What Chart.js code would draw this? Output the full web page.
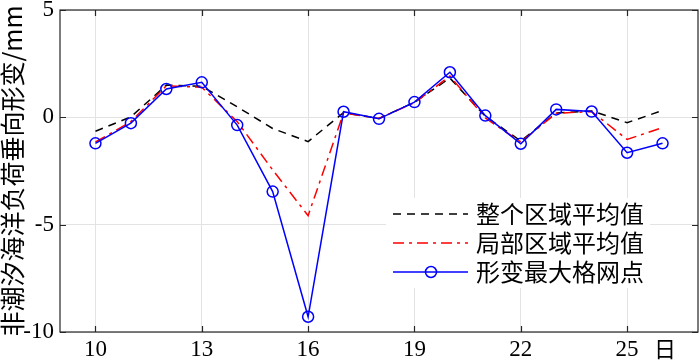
<!DOCTYPE html>
<html>
<head>
<meta charset="utf-8">
<script src="https://cdn.jsdelivr.net/npm/chart.js@4.4.0/dist/chart.umd.min.js"></script>
<style>
  body { margin: 0; background: #fff; }
  canvas { display: block; }
</style>
</head>
<body>
<canvas id="chart" width="700" height="364"></canvas>
<script>
const days = [10, 11, 12, 13, 14, 15, 16, 17, 18, 19, 20, 21, 22, 23, 24, 25, 26];
const xTicks = [10, 13, 16, 19, 22, 25];
const yTicks = [-10, -5, 0, 5];

const overallAvg = [-0.65, 0.02, 1.5, 1.45, 0.49, -0.52, -1.13, 0.22, -0.05, 0.7, 1.83, 0.05, -1.1, 0.2, 0.3, -0.25, 0.32];
const localAvg = [-1.15, -0.2, 1.47, 1.4, -0.2, -2.45, -4.58, 0.2, -0.05, 0.68, 1.92, -0.03, -1.15, 0.19, 0.27, -1.03, -0.48];
const maxPoint = [-1.21, -0.27, 1.32, 1.63, -0.36, -3.46, -9.29, 0.26, -0.07, 0.71, 2.1, 0.08, -1.23, 0.37, 0.27, -1.65, -1.21];

const names = ['整个区域平均值', '局部区域平均值', '形变最大格网点'];

function toPoints(values) {
    return days.map((d, i) => ({ x: d, y: values[i] }));
}

const cjk = '"Noto Sans CJK SC", sans-serif';
const serif = '"Liberation Serif", "Times New Roman", serif';

// box, inward ticks, unit label and legend
const decorations = {
    id: 'decorations',
    afterDatasetsDraw(chart) {
        const ctx = chart.ctx;
        const area = chart.chartArea;
        const xs = chart.scales.x;
        const ys = chart.scales.y;
        ctx.save();

        ctx.strokeStyle = '#262626';
        ctx.lineWidth = 1.2;
        ctx.strokeRect(area.left, area.top, area.right - area.left, area.bottom - area.top);

        ctx.beginPath();
        xTicks.forEach(v => {
            const px = Math.round(xs.getPixelForValue(v)) + 0.5;
            ctx.moveTo(px, area.bottom);
            ctx.lineTo(px, area.bottom - 6);
            ctx.moveTo(px, area.top);
            ctx.lineTo(px, area.top + 6);
        });
        yTicks.forEach(v => {
            const py = Math.round(ys.getPixelForValue(v)) + 0.5;
            ctx.moveTo(area.left, py);
            ctx.lineTo(area.left + 6, py);
            ctx.moveTo(area.right, py);
            ctx.lineTo(area.right - 6, py);
        });
        ctx.stroke();

        ctx.fillStyle = '#000';
        ctx.font = '22px ' + cjk;
        ctx.textAlign = 'center';
        ctx.textBaseline = 'middle';
        ctx.fillText('日', 665, 349);

        // legend
        ctx.fillStyle = '#fff';
        ctx.fillRect(386, 198, 264, 90);
        const rows = [214, 243, 272];
        chart.data.datasets.forEach((ds, i) => {
            const y = rows[i];
            ctx.save();
            ctx.strokeStyle = ds.borderColor;
            ctx.lineWidth = ds.borderWidth;
            ctx.setLineDash(ds.borderDash || []);
            ctx.beginPath();
            ctx.moveTo(393, y);
            ctx.lineTo(468, y);
            ctx.stroke();
            if (ds.pointRadius > 0) {
                ctx.setLineDash([]);
                ctx.lineWidth = ds.pointBorderWidth;
                ctx.beginPath();
                ctx.arc(431, y, ds.pointRadius, 0, Math.PI * 2);
                ctx.stroke();
            }
            ctx.restore();
            ctx.fillStyle = '#000';
            ctx.font = '24px ' + cjk;
            ctx.textAlign = 'left';
            ctx.textBaseline = 'middle';
            ctx.fillText(ds.label, 476, y);
        });
        ctx.restore();
    }
};

new Chart(document.getElementById('chart'), {
    type: 'line',
    data: {
        datasets: [{
            label: names[0],
            data: toPoints(overallAvg),
            borderColor: '#000000',
            borderWidth: 1.5,
            borderDash: [8, 6],
            pointRadius: 0,
            order: 2
        }, {
            label: names[1],
            data: toPoints(localAvg),
            borderColor: '#ff0000',
            borderWidth: 1.5,
            borderDash: [11, 5, 3, 5],
            pointRadius: 0,
            order: 1
        }, {
            label: names[2],
            data: toPoints(maxPoint),
            borderColor: '#0000ff',
            borderWidth: 1.5,
            pointRadius: 5.5,
            pointBorderWidth: 1.5,
            pointBackgroundColor: 'rgba(0,0,0,0)',
            pointBorderColor: '#0000ff',
            order: 0
        }]
    },
    options: {
        responsive: false,
        animation: false,
        layout: { autoPadding: false, padding: { top: 10, right: 2, left: 0, bottom: 0 } },
        plugins: {
            legend: { display: false },
            tooltip: { enabled: false }
        },
        scales: {
            x: {
                type: 'linear',
                min: 9,
                max: 27,
                grid: { color: '#e3e3e3', drawTicks: false },
                border: { display: false },
                afterBuildTicks: scale => { scale.ticks = xTicks.map(v => ({ value: v })); },
                afterFit: scale => {
                    scale.height = 32;
                    scale.paddingLeft = 0;
                    scale.paddingRight = 0;
                },
                ticks: {
                    color: '#000',
                    padding: 4,
                    maxRotation: 0,
                    font: { family: serif, size: 23 }
                }
            },
            y: {
                min: -10,
                max: 5,
                grid: { color: '#e3e3e3', drawTicks: false },
                border: { display: false },
                afterBuildTicks: scale => { scale.ticks = yTicks.map(v => ({ value: v })); },
                afterFit: scale => {
                    scale.width = 60;
                    scale.paddingTop = 0;
                    scale.paddingBottom = 0;
                },
                ticks: {
                    color: '#000',
                    padding: 6,
                    font: { family: serif, size: 23 }
                },
                title: {
                    display: true,
                    text: '非潮汐海洋负荷垂向形变/mm',
                    color: '#000',
                    padding: { top: 0, bottom: 0 },
                    font: { family: cjk, size: 25, lineHeight: 1.0 }
                }
            }
        }
    },
    plugins: [decorations]
});
</script>
</body>
</html>
